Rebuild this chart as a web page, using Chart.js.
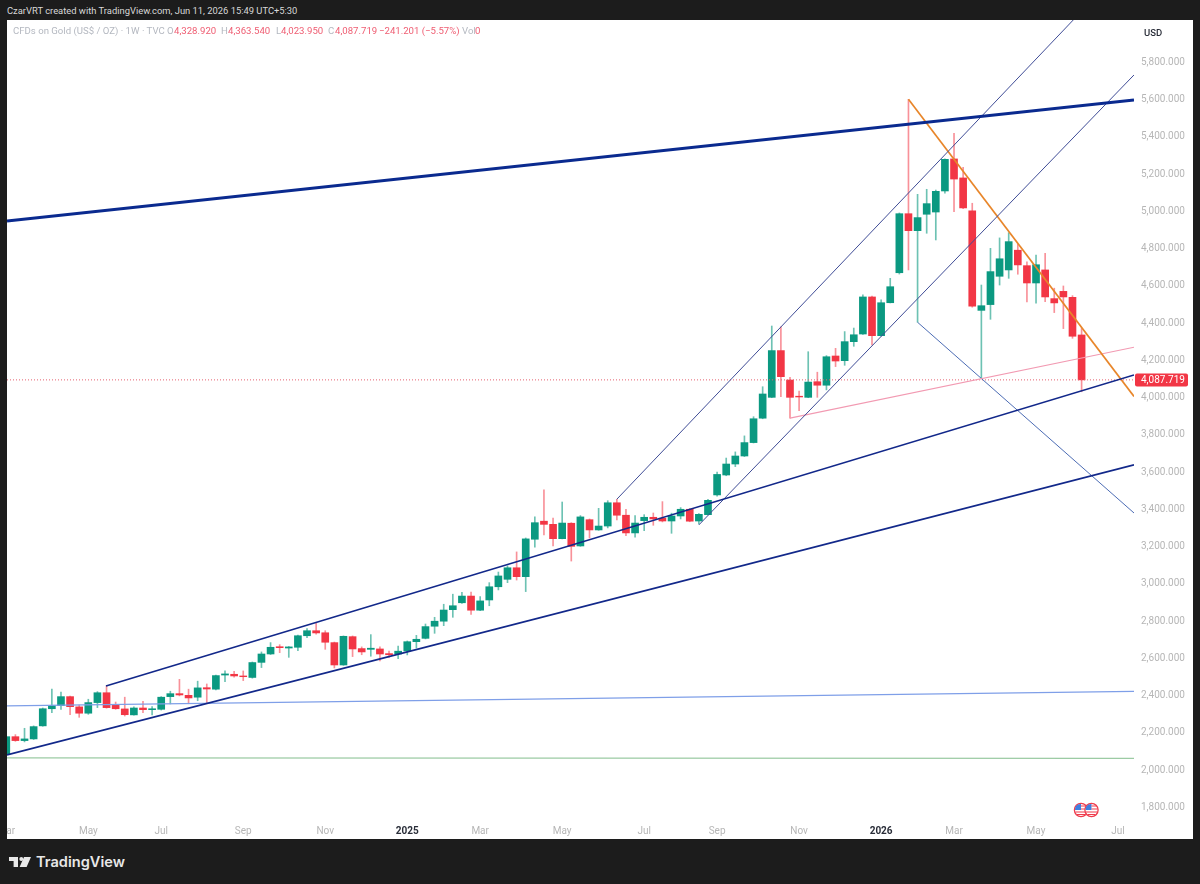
<!DOCTYPE html>
<html>
<head>
<meta charset="utf-8">
<title>CFDs on Gold</title>
<script src="https://cdn.jsdelivr.net/npm/chart.js@4"></script>
<style>
    html, body { margin: 0; padding: 0; background: #1c1c1c; }
    #page { position: relative; width: 1200px; height: 884px; overflow: hidden; background: #1c1c1c; font-family: Roboto, sans-serif; }
    #pane { position: absolute; left: 7px; top: 20px; width: 1186px; height: 819px; background: #fff; }
    canvas { position: absolute; left: 7px; top: 20px; }
    #created { position: absolute; left: 7px; top: 4px; font-size: 9.4px; line-height: 14px; color: #d8d8d8; white-space: nowrap; }
    #legend span { position: absolute; top: 24px; font-size: 9.6px; line-height: 14px; white-space: nowrap; color: #b4b8c0; }
    #legend span.val { color: #ef5d72; }
    #usd { position: absolute; left: 1144px; top: 26px; font-size: 9.5px; line-height: 13px; font-weight: 500; color: #2a2e39; }
    #logo { position: absolute; left: 9px; top: 856px; }
    #brand { position: absolute; left: 36px; top: 851px; font-family: Inter, sans-serif; font-size: 14.6px; line-height: 22px; font-weight: 600; color: #e8e8e8; }
    #flags { position: absolute; left: 1072px; top: 801px; }
</style>
</head>
<body>
<div id="page">
    <div id="pane"></div>
    <canvas id="chart" width="1186" height="819"></canvas>
    <div id="created">CzarVRT created with TradingView.com, Jun 11, 2026 15:49 UTC+5:30</div>
    <div id="legend">
        <span style="left:13px">CFDs on Gold (US$ / OZ) · 1W · TVC</span>
        <span style="left:167px">O</span><span class="val" style="left:174px">4,328.920</span>
        <span style="left:221px">H</span><span class="val" style="left:228px">4,363.540</span>
        <span style="left:276px">L</span><span class="val" style="left:281px">4,023.950</span>
        <span style="left:328px">C</span><span class="val" style="left:335px">4,087.719</span>
        <span class="val" style="left:379px">−241.201 (−5.57%)</span>
        <span style="left:462px">Vol</span><span class="val" style="left:475px">0</span>
    </div>
    <div id="usd">USD</div>
    <svg id="flags" width="28" height="18" viewBox="0 0 28 18">
        <g id="flag">
            <circle cx="9" cy="9" r="6.6" fill="#fff" stroke="#ef3b4c" stroke-width="1.3"/>
            <path d="M4 5 A6 6 0 0 1 9 3 V9 H3 A6 6 0 0 1 4 5Z" fill="#3f7fe0"/>
            <path d="M9 5h5M9 8h6M3.5 11h11M5 13.5h8" stroke="#ef3b4c" stroke-width="1.1" fill="none"/>
        </g>
        <g transform="translate(10.5 0)">
            <circle cx="9" cy="9" r="6.6" fill="#fff" stroke="#ef3b4c" stroke-width="1.3"/>
            <path d="M4 5 A6 6 0 0 1 9 3 V9 H3 A6 6 0 0 1 4 5Z" fill="#3f7fe0"/>
            <path d="M9 5h5M9 8h6M3.5 11h11M5 13.5h8" stroke="#ef3b4c" stroke-width="1.1" fill="none"/>
        </g>
    </svg>
    <svg id="logo" width="22" height="12" viewBox="0 0 22 12">
        <path d="M0 1h9v10H4.6V5H0z M15 1h7l-4.4 10h-7z" fill="#e8e8e8"/>
        <circle cx="12.3" cy="3" r="2" fill="#e8e8e8"/>
    </svg>
    <div id="brand">TradingView</div>
</div>

<script>
// weekly candles, oldest first
const opens = [
    2078, 2172, 2151, 2160, 2230, 2322, 2339, 2387, 2332, 2298,
    2355, 2408, 2342, 2321, 2289, 2326, 2317, 2319, 2387, 2403,
    2394, 2384, 2435, 2427, 2503, 2507, 2498, 2490, 2571, 2616,
    2655, 2648, 2652, 2714, 2741, 2730, 2677, 2557, 2709, 2645,
    2641, 2643, 2618, 2616, 2632, 2682, 2700, 2765, 2792, 2854,
    2891, 2927, 2851, 2906, 2977, 3017, 3079, 3031, 3232, 3329,
    3312, 3235, 3318, 3196, 3337, 3282, 3303, 3428, 3361, 3266,
    3332, 3350, 3345, 3330, 3357, 3393, 3330, 3364, 3470, 3577,
    3636, 3679, 3751, 3882, 3994, 4245, 4087, 4000, 3994, 4078,
    4059, 4216, 4191, 4293, 4334, 4533, 4325, 4502, 4663, 4980,
    4889, 4977, 4989, 5102, 5274, 5172, 4996, 4461, 4492, 4644,
    4678, 4784, 4701, 4608, 4678, 4524, 4563, 4531, 4328.92
];
const highs = [
    2172, 2183, 2217, 2230, 2326, 2427, 2412, 2390, 2342, 2373,
    2414, 2444, 2358, 2384, 2332, 2362, 2333, 2387, 2416, 2480,
    2427, 2470, 2455, 2503, 2526, 2523, 2525, 2573, 2627, 2677,
    2666, 2656, 2718, 2752, 2784, 2741, 2680, 2713, 2713, 2654,
    2720, 2655, 2632, 2659, 2686, 2716, 2777, 2813, 2883, 2937,
    2947, 2949, 2924, 2999, 3056, 3089, 3164, 3239, 3353, 3497,
    3346, 3432, 3321, 3359, 3341, 3398, 3439, 3447, 3393, 3359,
    3364, 3373, 3434, 3372, 3402, 3397, 3370, 3447, 3593, 3668,
    3701, 3787, 3890, 4051, 4377, 4373, 4102, 4027, 4239, 4129,
    4218, 4257, 4347, 4366, 4544, 4538, 4517, 4633, 4984, 5594,
    5084, 5111, 5107, 5275, 5412, 5229, 5036, 4597, 4794, 4850,
    4878, 4817, 4722, 4758, 4767, 4580, 4592, 4540, 4363.54
];
const lows = [
    2074, 2147, 2144, 2157, 2228, 2301, 2319, 2290, 2276, 2292,
    2328, 2325, 2319, 2283, 2287, 2301, 2289, 2315, 2348, 2391,
    2349, 2365, 2355, 2423, 2467, 2491, 2473, 2486, 2543, 2613,
    2623, 2598, 2634, 2704, 2723, 2641, 2541, 2555, 2602, 2612,
    2604, 2579, 2598, 2591, 2611, 2648, 2697, 2727, 2768, 2813,
    2888, 2829, 2849, 2875, 2960, 2999, 3013, 2951, 3189, 3255,
    3196, 3234, 3115, 3194, 3239, 3280, 3293, 3336, 3251, 3243,
    3278, 3307, 3325, 3264, 3341, 3326, 3314, 3362, 3464, 3573,
    3622, 3676, 3749, 3879, 3992, 3998, 3882, 3922, 3992, 3994,
    4034, 4159, 4166, 4268, 4332, 4275, 4323, 4501, 4656, 4678,
    4397, 4875, 4839, 5090, 4991, 5007, 4478, 4096, 4413, 4597,
    4633, 4655, 4506, 4499, 4508, 4449, 4363, 4311, 4023.95
];
const closes = [
    2172, 2151, 2160, 2226, 2322, 2339, 2387, 2333, 2298, 2355,
    2408, 2328, 2322, 2290, 2326, 2317, 2322, 2384, 2403, 2396,
    2380, 2434, 2428, 2500, 2509, 2498, 2494, 2570, 2616, 2652,
    2650, 2654, 2714, 2741, 2729, 2679, 2557, 2711, 2643, 2627,
    2647, 2616, 2612, 2631, 2682, 2695, 2763, 2792, 2852, 2875,
    2927, 2851, 2901, 2977, 3035, 3079, 3031, 3234, 3321, 3312,
    3235, 3319, 3194, 3352, 3282, 3303, 3428, 3361, 3266, 3319,
    3350, 3341, 3330, 3357, 3393, 3329, 3366, 3441, 3580, 3636,
    3679, 3751, 3879, 4012, 4245, 4105, 3994, 3996, 4076, 4059,
    4212, 4189, 4293, 4330, 4533, 4325, 4502, 4588, 4980, 4889,
    4959, 5034, 5100, 5272, 5166, 5011, 4483, 4486, 4669, 4738,
    4830, 4705, 4608, 4706, 4533, 4501, 4533, 4322, 4087.719
];

// axis labels
const priceTicks = [1800, 2000, 2200, 2400, 2600, 2800, 3000, 3200, 3400, 3600, 3800, 4000, 4200, 4400, 4600, 4800, 5000, 5200, 5400, 5600, 5800];
const timeTickWeeks = [0, 9, 17, 26, 35, 44, 52, 61, 70, 78, 87, 96, 104, 113, 122];
const timeTickLabels = ['Mar', 'May', 'Jul', 'Sep', 'Nov', '2025', 'Mar', 'May', 'Jul', 'Sep', 'Nov', '2026', 'Mar', 'May', 'Jul'];

const lastPrice = 4087.719;
const firstWeek = 0.077;
const lastWeek = 123.75;

// drawn lines as [week, price] ends
const resistance = [[firstWeek, 4941], [lastWeek, 5591]];
const channelLow = [[firstWeek, 2074], [lastWeek, 3631]];
const channelHigh = [[10.94, 2444], [lastWeek, 4114]];
const supportBlue = [[firstWeek, 2337], [lastWeek, 2415]];
const supportGreen = [[firstWeek, 2058], [lastWeek, 2056]];
const steepHigh = [[67, 3447], [120, 6170]];
const steepLow = [[76, 3309], [lastWeek, 5725]];
const downOrange = [[99, 5594], [lastWeek, 3999]];
const risePink = [[86, 3882], [lastWeek, 4263]];
const fallBlue = [[100, 4397], [lastWeek, 3373]];
const lastLine = [[firstWeek, lastPrice], [lastWeek, lastPrice]];

const UP = '#0b9981';
const DOWN = '#f23645';

const weeks = opens.map((o, i) => i);
const isUp = i => closes[i] >= opens[i];

function lineSet(points, color, width, dash) {
    return {
        type: 'line',
        data: points.map(p => ({ x: p[0], y: p[1] })),
        borderColor: color,
        borderWidth: width,
        borderDash: dash || [],
        pointRadius: 0,
        tension: 0,
        order: 0
    };
}

// red box with the last price on the axis
const priceTag = {
    id: 'priceTag',
    afterDraw(c) {
        const y = c.scales.y.getPixelForValue(lastPrice);
        const x = c.chartArea.right + 1;
        const ctx = c.ctx;
        ctx.save();
        ctx.fillStyle = DOWN;
        ctx.beginPath();
        ctx.roundRect(x, y - 6.5, 53, 13, 2);
        ctx.fill();
        ctx.fillStyle = '#fff';
        ctx.font = '10px Roboto';
        ctx.textBaseline = 'middle';
        ctx.fillText(lastPrice.toLocaleString('en-US', { minimumFractionDigits: 3 }), x + 6, y + 0.5);
        ctx.restore();
    }
};

new Chart(document.getElementById('chart'), {
    type: 'bar',
    data: {
        datasets: [
            lineSet(resistance, '#0a2a8f', 3),
            lineSet(channelLow, '#12288a', 1.7),
            lineSet(channelHigh, '#12288a', 1.7),
            lineSet(supportBlue, '#7f9fe8', 1.2),
            lineSet(supportGreen, '#9ccba4', 1.2),
            lineSet(steepHigh, '#3f4c96', 1),
            lineSet(steepLow, '#3f4c96', 1),
            lineSet(downOrange, '#e8862a', 1.7),
            lineSet(risePink, '#f29ab2', 1.2),
            lineSet(fallBlue, '#4c6cb4', 1),
            lineSet(lastLine, '#e5606f', 1, [1, 2]),
            {
                data: weeks.map(i => ({ x: i, y: [opens[i], closes[i]] })),
                backgroundColor: weeks.map(i => isUp(i) ? UP : DOWN),
                barThickness: 7,
                borderSkipped: false,
                grouped: false,
                order: 1
            },
            {
                data: weeks.map(i => ({ x: i, y: [lows[i], highs[i]] })),
                backgroundColor: weeks.map(i => isUp(i) ? 'rgba(11,153,129,0.6)' : 'rgba(242,54,69,0.55)'),
                barThickness: 1,
                borderSkipped: false,
                grouped: false,
                order: 2
            }
        ]
    },
    options: {
        responsive: false,
        animation: false,
        events: [],
        layout: { padding: 0 },
        plugins: {
            legend: { display: false },
            tooltip: { enabled: false }
        },
        scales: {
            x: {
                type: 'linear',
                offset: false,
                min: firstWeek,
                max: lastWeek,
                grid: { display: false, drawTicks: false, offset: false },
                border: { display: false },
                afterBuildTicks: s => { s.ticks = timeTickWeeks.map(v => ({ value: v })); },
                afterFit: s => { s.height = 20; s.paddingLeft = 0; s.paddingRight = 0; },
                ticks: {
                    autoSkip: false,
                    maxRotation: 0,
                    padding: 6,
                    callback: (v, i) => timeTickLabels[i],
                    color: c => /^20/.test(timeTickLabels[c.index]) ? '#2a2e39' : '#b6b6b6',
                    font: c => ({
                        family: 'Roboto',
                        size: 10,
                        weight: /^20/.test(timeTickLabels[c.index]) ? 'bold' : 'normal'
                    })
                }
            },
            y: {
                position: 'right',
                min: 1730,
                max: 6020,
                grid: { display: false, drawTicks: false },
                border: { display: false },
                afterBuildTicks: s => { s.ticks = priceTicks.map(v => ({ value: v })); },
                afterFit: s => { s.width = 59; s.paddingTop = 0; s.paddingBottom = 0; },
                ticks: {
                    padding: 7,
                    labelOffset: 1.5,
                    color: '#b6b6b6',
                    font: { family: 'Roboto', size: 10 },
                    callback: v => v.toLocaleString('en-US', { minimumFractionDigits: 3 })
                }
            }
        }
    },
    plugins: [priceTag]
});
</script>
</body>
</html>
